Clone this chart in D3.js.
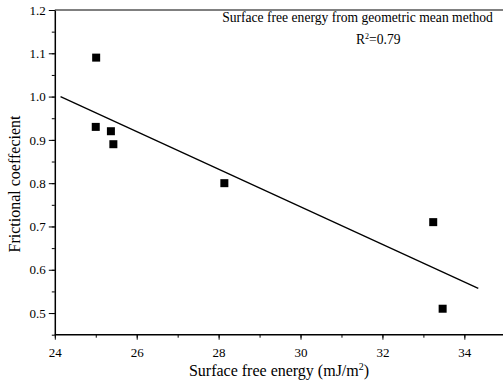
<!DOCTYPE html>
<html><head><meta charset="utf-8">
<script src="https://cdn.jsdelivr.net/npm/d3@7"></script>
<style>body{margin:0;background:#fff}svg{display:block}svg text{font-family:"Liberation Serif","Times New Roman",serif !important;fill:#000}</style>
</head><body>
<svg id="c" width="503" height="383"></svg>
<script>
const energy = [25.01, 25.0, 25.37, 25.43, 28.14, 33.24, 33.47];
const friction = [1.09, 0.93, 0.92, 0.89, 0.80, 0.71, 0.51];
const fitX = [24.14, 34.34];
const fitY = [1.0, 0.557];
const xTicks = [24, 26, 28, 30, 32, 34];
const yTicks = [0.5, 0.6, 0.7, 0.8, 0.9, 1.0, 1.1, 1.2];
const annotation = "Surface free energy from geometric mean method";
const r2Label = "0.79";

const svg = d3.select("#c");
const x = d3.scaleLinear().domain([24, 35]).range([54.8, 505.3]);
const y = d3.scaleLinear().domain([0.45, 1.2]).range([334.7, 10]);
const SERIF = '"Liberation Serif", serif';

// top frame
svg.append("line").attr("x1", x(24)).attr("x2", 503).attr("y1", y(1.2)).attr("y2", y(1.2))
  .attr("stroke", "#000").attr("stroke-width", 1);

// x axis
const xMinor = d3.range(24, 35.01, 1);
svg.append("g").attr("transform", `translate(0,${y(0.45)})`)
  .call(d3.axisBottom(x).tickValues(xMinor).tickSize(3).tickFormat(""))
  .call(g => g.select(".domain").remove())
  .selectAll("line").attr("stroke", "#000");
const gx = svg.append("g").attr("transform", `translate(0,${y(0.45)})`)
  .call(d3.axisBottom(x).tickValues(xTicks).tickSize(5).tickSizeOuter(0).tickPadding(8).tickFormat(d3.format("d")));
gx.attr("font-family", SERIF).attr("font-size", 13);
gx.select(".domain").attr("stroke", "#000").attr("stroke-width", 1.5).attr("d", `M${x(24)},0H503`);
gx.selectAll("line").attr("stroke", "#000");
gx.selectAll("text").style("font-family", SERIF).style("font-size", "13px");

// y axis
const yMinor = d3.range(0.45, 1.2001, 0.05);
svg.append("g").attr("transform", `translate(${x(24)},0)`)
  .call(d3.axisLeft(y).tickValues(yMinor).tickSize(3).tickFormat(""))
  .call(g => g.select(".domain").remove())
  .selectAll("line").attr("stroke", "#000");
const gy = svg.append("g").attr("transform", `translate(${x(24)},0)`)
  .call(d3.axisLeft(y).tickValues(yTicks).tickSize(6).tickSizeOuter(0).tickPadding(3).tickFormat(d3.format(".1f")));
gy.attr("font-family", SERIF).attr("font-size", 13);
gy.select(".domain").attr("stroke", "#000").attr("stroke-width", 1.5);
gy.selectAll("line").attr("stroke", "#000");
gy.selectAll("text").style("font-family", SERIF).style("font-size", "13px");

// fit line
svg.append("line").attr("x1", x(fitX[0])).attr("y1", y(fitY[0]))
  .attr("x2", x(fitX[1])).attr("y2", y(fitY[1]))
  .attr("stroke", "#000").attr("stroke-width", 1.3);

// points
const s = 8;
svg.selectAll("rect.pt").data(energy).join("rect").attr("class", "pt")
  .attr("x", (d) => x(d) - s / 2).attr("y", (d, i) => y(friction[i]) - s / 2)
  .attr("width", s).attr("height", s).attr("fill", "#000");

// annotation
svg.append("text").attr("x", 357.5).attr("y", 22).attr("text-anchor", "middle")
  .style("font-family", SERIF).style("font-size", "13.6px").text(annotation);
const r = svg.append("text").attr("x", 356).attr("y", 44).style("font-family", SERIF).style("font-size", "13.6px");
r.append("tspan").text("R");
r.append("tspan").attr("dy", -5).style("font-size", "8px").text("2");
r.append("tspan").attr("dy", 5).text("=" + r2Label);

// axis titles
const xt = svg.append("text").attr("x", 279).attr("y", 376).attr("text-anchor", "middle")
  .style("font-family", SERIF).style("font-size", "16px");
xt.append("tspan").text("Surface free energy (mJ/m");
xt.append("tspan").attr("dy", -6).style("font-size", "10px").text("2");
xt.append("tspan").attr("dy", 6).text(")");

svg.append("text").attr("transform", "translate(20,184) rotate(-90)").attr("text-anchor", "middle")
  .style("font-family", SERIF).style("font-size", "16px").text("Frictional coeffecient");
</script>
</body></html>
